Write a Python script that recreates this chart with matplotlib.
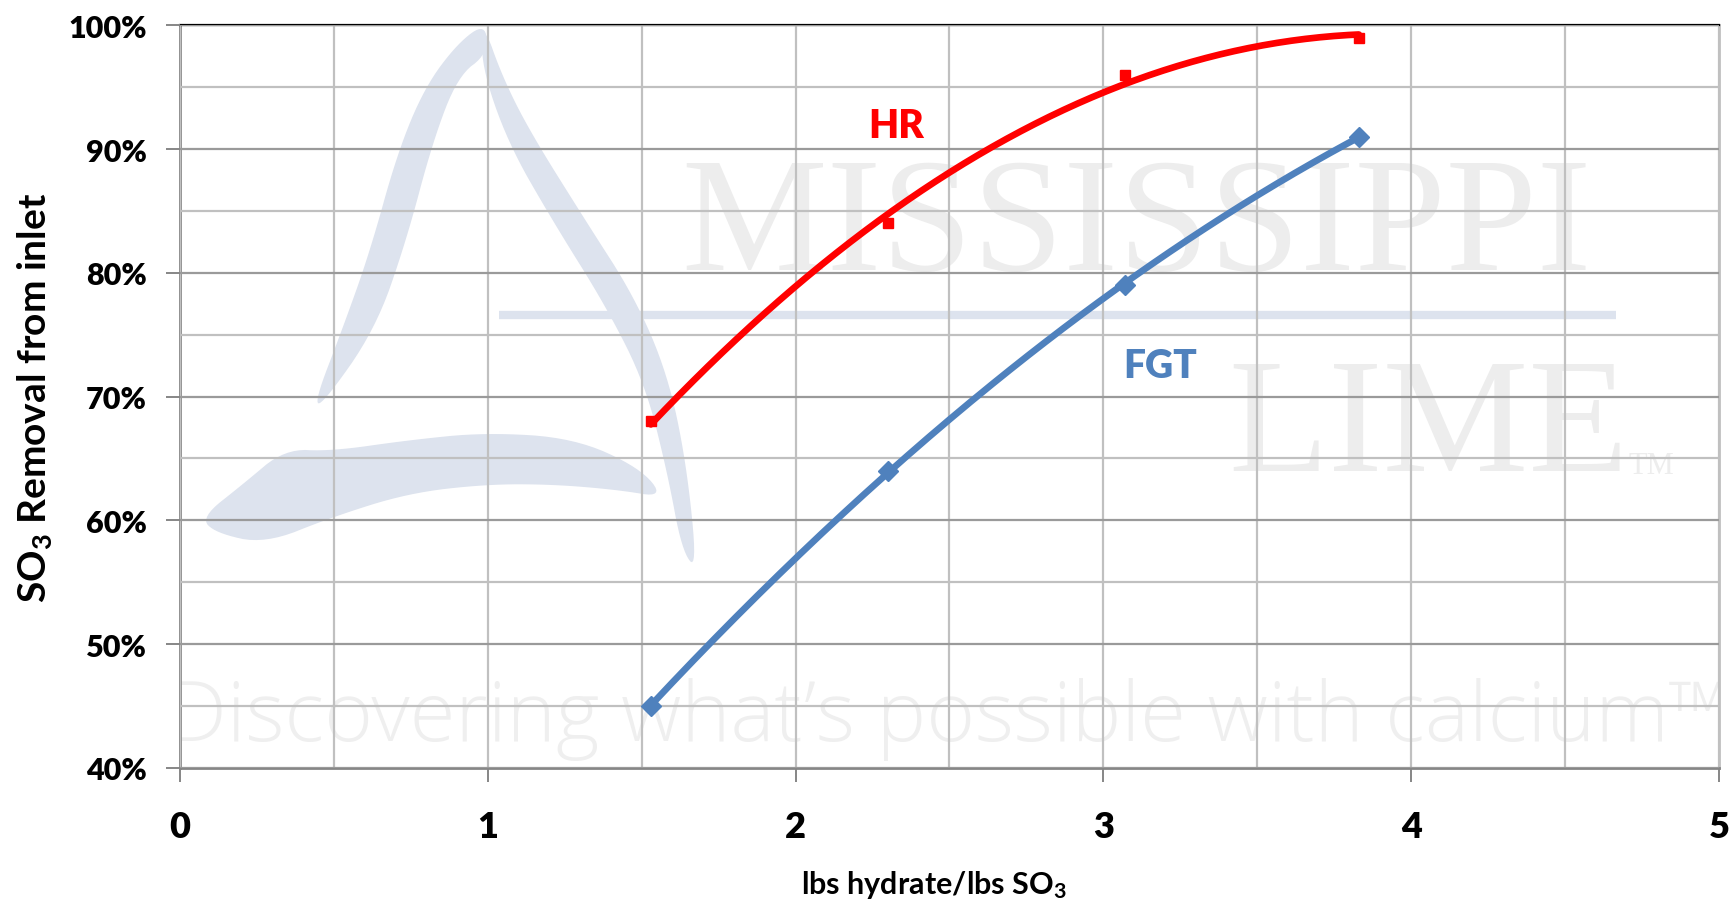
import numpy as np
import matplotlib
matplotlib.use("Agg")
import matplotlib.pyplot as plt
from matplotlib.patches import Polygon
from matplotlib.ticker import MultipleLocator, PercentFormatter

FONT = 'Lato'
plt.rcParams['mathtext.fontset'] = 'custom'
plt.rcParams['mathtext.rm'] = FONT + ':bold'
plt.rcParams['mathtext.it'] = FONT + ':bold'
plt.rcParams['mathtext.bf'] = FONT + ':bold'
plt.rcParams['mathtext.default'] = 'rm'

# ---- data ----
hr_x = [1.53, 2.30, 3.07, 3.83]
hr_y = [68, 84, 96, 99]
fgt_x = [1.53, 2.30, 3.07, 3.83]
fgt_y = [45, 64, 79, 91]
x_ticks = [0, 1, 2, 3, 4, 5]
y_ticks = [40, 50, 60, 70, 80, 90, 100]

RED = "#FF0000"
BLUE = "#4F81BD"

fig = plt.figure(figsize=(17.30, 9.04), dpi=100)
ax = fig.add_axes([0.104, 0.1494, 0.8896, 0.8216])
ax.set_xlim(0, 5)
ax.set_ylim(40, 100)

# ---- watermark (decorative logo) ----
wm_blue = "#DDE3EE"
def fx(px): return (px - 163) / 1395.0
def fy(py): return (697 - py) / 673.0

def chaikin(pts, n=3):
    p = np.asarray(pts, float)
    for _ in range(n):
        q = np.roll(p, -1, axis=0)
        p = np.vstack([np.column_stack([0.75 * p + 0.25 * q]), ]).reshape(-1, 2) if False else \
            np.stack([0.75 * p + 0.25 * q, 0.25 * p + 0.75 * q], axis=1).reshape(-1, 2)
    return p

logo_parts = [
    [(285, 365), (310, 300), (335, 230), (360, 140), (385, 80), (415, 40), (440, 22),
     (442, 50), (415, 70), (392, 130), (368, 220), (340, 300), (292, 368)],
    [(438, 22), (455, 70), (480, 120), (530, 200), (575, 270), (605, 340), (622, 420), (632, 518),
     (618, 500), (605, 430), (585, 350), (550, 280), (500, 200), (460, 130), (436, 60)],
    [(182, 470), (220, 440), (258, 408), (300, 410), (370, 400), (440, 393), (520, 398), (580, 425),
     (602, 452), (560, 445), (500, 440), (440, 440), (370, 448), (300, 470), (240, 494), (195, 484)],
]
for part in logo_parts:
    sm = chaikin(part, 3)
    ax.add_patch(Polygon([(fx(a), fy(b)) for a, b in sm], closed=True,
                         transform=ax.transAxes, facecolor=wm_blue, edgecolor='none', zorder=1))
ax.plot([fx(452), fx(1465)], [fy(287), fy(287)], transform=ax.transAxes,
        color=wm_blue, lw=6, zorder=1, solid_capstyle='butt')
ax.text(fx(1030), fy(245), "MISSISSIPPI", transform=ax.transAxes, ha='center', va='baseline',
        fontsize=118, family='Liberation Serif', color='#EDEDED', zorder=1)
ax.text(fx(1295), fy(427), "LIME", transform=ax.transAxes, ha='center', va='baseline',
        fontsize=118, family='Liberation Serif', color='#EDEDED', zorder=1)
ax.text(fx(1497), fy(430), "TM", transform=ax.transAxes, ha='center', va='baseline',
        fontsize=22, family='Liberation Serif', color='#EDEDED', zorder=1)
ax.text(fx(860), fy(672), "Discovering what\u2019s possible with calcium\u2122", transform=ax.transAxes,
        ha='center', va='baseline', fontsize=60, family='Open Sans', fontweight='light',
        color='#EFEFEF', zorder=1, clip_on=True)

# ---- grid ----
ax.xaxis.set_major_locator(MultipleLocator(1))
ax.xaxis.set_minor_locator(MultipleLocator(0.5))
ax.yaxis.set_major_locator(MultipleLocator(10))
ax.yaxis.set_minor_locator(MultipleLocator(5))
ax.grid(which='major', axis='y', color='#9A9A9A', lw=1.6, zorder=2)
ax.grid(which='minor', axis='y', color='#C0C0C0', lw=1.6, zorder=2)
ax.grid(which='both', axis='x', color='#C0C0C0', lw=1.6, zorder=2)
ax.set_axisbelow(False)

# ---- trendlines & markers ----
for xs, ys, col, mk, ms in [(hr_x, hr_y, RED, 's', 7), (fgt_x, fgt_y, BLUE, 'D', 10)]:
    c = np.polyfit(xs, ys, 2)
    xx = np.linspace(min(xs), max(xs), 200)
    ax.plot(xx, np.polyval(c, xx), color=col, lw=4.8, zorder=4, solid_capstyle='round')
    ax.plot(xs, ys, linestyle='none', marker=mk, ms=ms, color=col, zorder=5)

ax.text(2.326, 91.9, "HR", color=RED, fontsize=28, family=FONT, fontweight='heavy',
        ha='center', va='center', zorder=6)
ax.text(3.186, 72.5, "FGT", color=BLUE, fontsize=28, family=FONT, fontweight='heavy',
        ha='center', va='center', zorder=6)

# ---- axes styling ----
ax.set_xticks(x_ticks)
ax.set_yticks(y_ticks)
ax.yaxis.set_major_formatter(PercentFormatter(decimals=0))
ax.tick_params(axis='both', which='minor', length=0)
ax.tick_params(axis='y', which='major', length=10, width=1.4, color='#868686', pad=14)
ax.tick_params(axis='x', which='major', length=10, width=1.4, color='#868686', pad=20)
for lbl in ax.get_yticklabels():
    lbl.set_fontfamily(FONT)
    lbl.set_fontweight('heavy')
    lbl.set_fontsize(22)
for lbl in ax.get_xticklabels():
    lbl.set_fontfamily(FONT)
    lbl.set_fontweight('heavy')
    lbl.set_fontsize(26)

for s in ['left', 'bottom', 'right']:
    ax.spines[s].set_color('#868686')
    ax.spines[s].set_linewidth(2)
ax.spines['right'].set_color('#C0C0C0')
ax.spines['top'].set_color('black')
ax.spines['top'].set_linewidth(1.6)

ax.set_xlabel("lbs hydrate/lbs SO$_3$", fontsize=22, family=FONT, fontweight='bold')
ax.xaxis.set_label_coords(0.49, -0.135)
ax.set_ylabel("SO$_3$ Removal from inlet", fontsize=28, family=FONT, fontweight='bold', labelpad=10)

fig.savefig("out.png", dpi=100, facecolor='white')
